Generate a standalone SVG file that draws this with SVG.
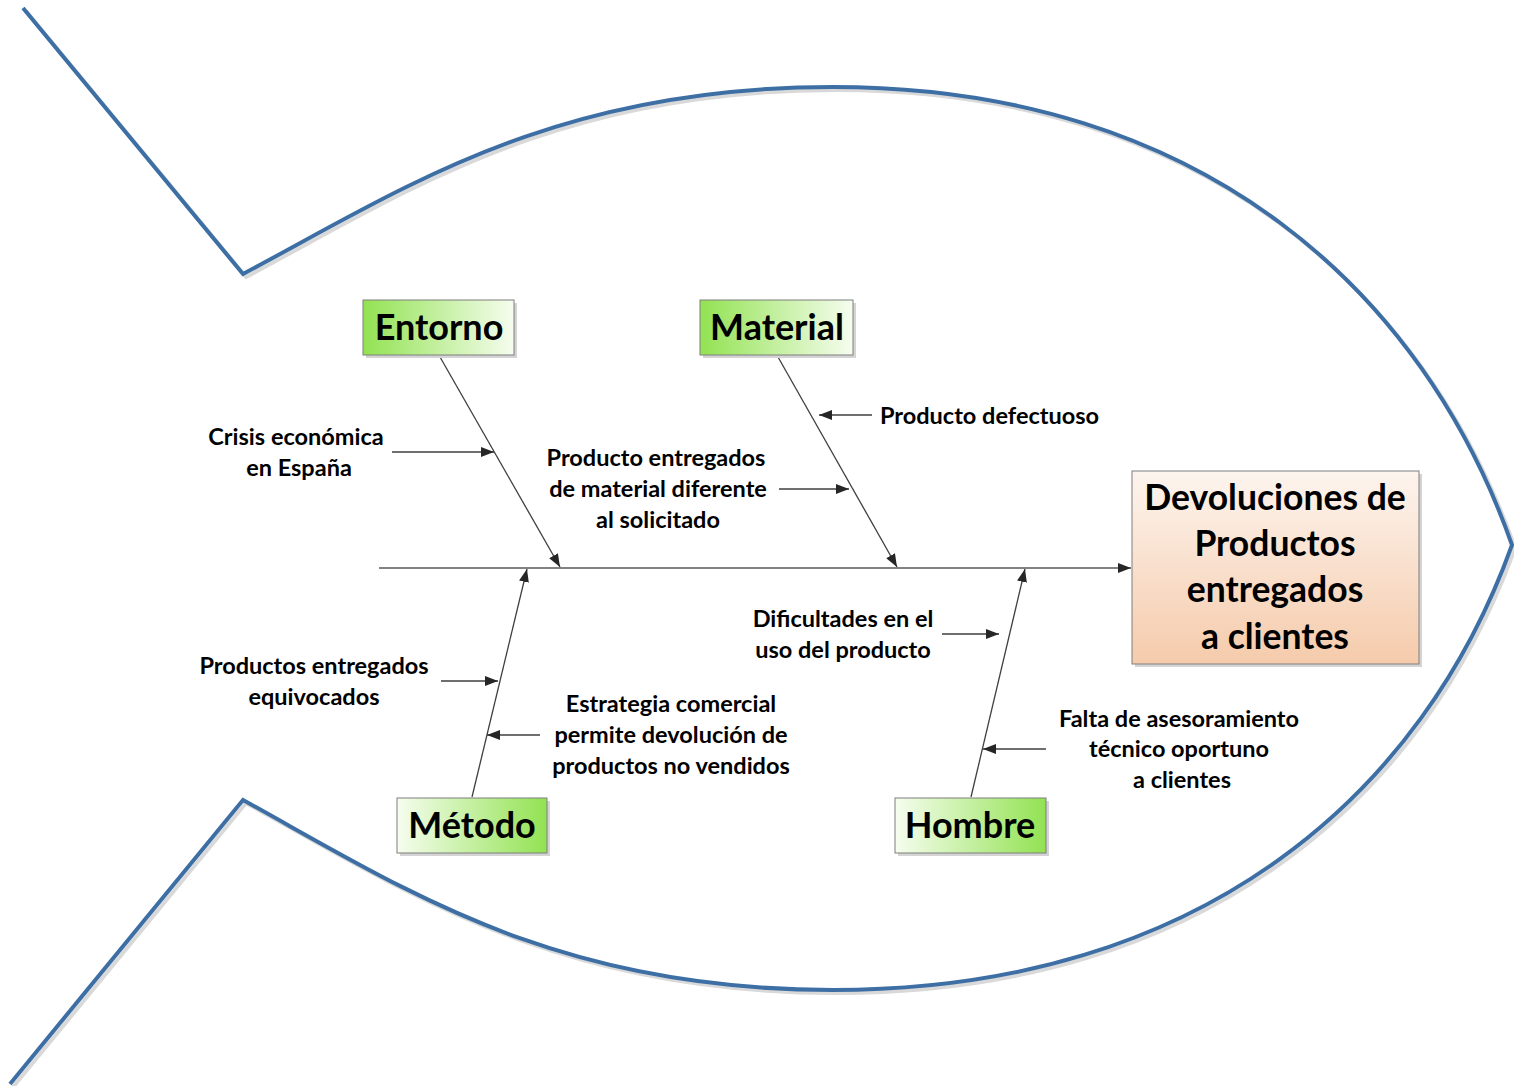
<svg xmlns="http://www.w3.org/2000/svg" width="1514" height="1086" viewBox="0 0 1514 1086">
  <style>
    .fish { fill: none; stroke: #3d6fa5; stroke-width: 4; stroke-linejoin: miter; }
    .fish-shadow { fill: none; stroke: #d9d9d9; stroke-width: 4; }
    .bone { stroke: #3f3f3f; stroke-width: 1.3; fill: none; marker-end: url(#arrow); }
    .spine { stroke: #595959; stroke-width: 1.6; fill: none; marker-end: url(#arrow); }
    .box { stroke: #7f7f7f; stroke-width: 1; }
    .shadow { fill: #d4d4d4; }
    .cat { font-family: Lato, "Open Sans", "Liberation Sans", sans-serif; font-weight: bold; font-size: 36px; fill: #000; text-anchor: middle; }
    .eff { font-family: Lato, "Open Sans", "Liberation Sans", sans-serif; font-weight: bold; font-size: 35.5px; fill: #000; text-anchor: middle; }
    .lbl { font-family: Lato, "Open Sans", "Liberation Sans", sans-serif; font-weight: bold; font-size: 23.5px; fill: #000; text-anchor: middle; }
    .start { text-anchor: start; }
  </style>
  <defs>
    <marker id="arrow" markerUnits="userSpaceOnUse" markerWidth="14" markerHeight="10" refX="13" refY="5" orient="auto">
      <path d="M0,0 L13,5 L0,10 z" fill="#262626"/>
    </marker>
    <linearGradient id="greenL" x1="0" y1="0" x2="1" y2="0">
      <stop offset="0" stop-color="#92e252"/>
      <stop offset="1" stop-color="#f6fdef"/>
    </linearGradient>
    <linearGradient id="greenR" x1="0" y1="0" x2="1" y2="0">
      <stop offset="0" stop-color="#f6fdef"/>
      <stop offset="1" stop-color="#92e252"/>
    </linearGradient>
    <linearGradient id="peach" x1="0" y1="0" x2="0" y2="1">
      <stop offset="0" stop-color="#fdf4ee"/>
      <stop offset="1" stop-color="#f5cbab"/>
    </linearGradient>
  </defs>

  <rect width="1514" height="1086" fill="#ffffff"/>

  <!-- fish outline -->
  <g id="fish">
    <path class="fish-shadow" transform="translate(3,3)" d="M23,8 L243,274 C403,189 553,87 833,87 C1206,87 1424,295 1512,545 C1424,790 1206,990 833,990 C553,990 403,888 243,800 L10,1084"/>
    <path class="fish" d="M23,8 L243,274 C403,189 553,87 833,87 C1206,87 1424,295 1512,545 C1424,790 1206,990 833,990 C553,990 403,888 243,800 L10,1084"/>
  </g>

  <!-- connectors -->
  <g id="connectors">
    <line class="spine" x1="379" y1="568" x2="1131" y2="568"/>
    <line class="bone" x1="440" y1="357" x2="560" y2="567"/>
    <line class="bone" x1="778" y1="357" x2="897" y2="567"/>
    <line class="bone" x1="472" y1="797" x2="527" y2="569"/>
    <line class="bone" x1="971" y1="797" x2="1025" y2="569"/>
    <line class="bone" x1="392" y1="452" x2="494" y2="452"/>
    <line class="bone" x1="779" y1="489" x2="849" y2="489"/>
    <line class="bone" x1="872" y1="415" x2="819" y2="415"/>
    <line class="bone" x1="942" y1="634" x2="999" y2="634"/>
    <line class="bone" x1="441" y1="681" x2="498" y2="681"/>
    <line class="bone" x1="540" y1="735" x2="487" y2="735"/>
    <line class="bone" x1="1046" y1="749" x2="983" y2="749"/>
  </g>

  <!-- category nodes -->
  <g id="entorno">
    <rect class="shadow" x="366" y="303" width="151" height="55"/>
    <rect class="box" x="363" y="300" width="151" height="55" fill="url(#greenL)"/>
    <text class="cat" x="439" y="340">Entorno</text>
  </g>
  <g id="material">
    <rect class="shadow" x="703" y="303" width="153" height="55"/>
    <rect class="box" x="700" y="300" width="153" height="55" fill="url(#greenL)"/>
    <text class="cat" x="777" y="340">Material</text>
  </g>
  <g id="metodo">
    <rect class="shadow" x="400" y="801" width="150" height="55"/>
    <rect class="box" x="397" y="798" width="150" height="55" fill="url(#greenR)"/>
    <text class="cat" x="472" y="838">Método</text>
  </g>
  <g id="hombre">
    <rect class="shadow" x="898" y="801" width="151" height="55"/>
    <rect class="box" x="895" y="798" width="151" height="55" fill="url(#greenR)"/>
    <text class="cat" x="970" y="838">Hombre</text>
  </g>

  <!-- effect node -->
  <g id="efecto">
    <rect class="shadow" x="1135" y="474" width="287" height="193"/>
    <rect class="box" x="1132" y="471" width="287" height="193" fill="url(#peach)"/>
    <text class="eff" x="1275" y="510">Devoluciones de</text>
    <text class="eff" x="1275" y="556">Productos</text>
    <text class="eff" x="1275" y="602">entregados</text>
    <text class="eff" x="1275" y="649">a clientes</text>
  </g>

  <!-- cause labels -->
  <g id="causa-crisis">
    <text class="lbl" x="296" y="445">Crisis económica</text>
    <text class="lbl" x="299" y="476">en España</text>
  </g>
  <g id="causa-material-diferente">
    <text class="lbl" x="656" y="466">Producto entregados</text>
    <text class="lbl" x="658" y="497">de material diferente</text>
    <text class="lbl" x="658" y="528">al solicitado</text>
  </g>
  <g id="causa-defectuoso">
    <text class="lbl start" x="880" y="424">Producto defectuoso</text>
  </g>
  <g id="causa-dificultades">
    <text class="lbl" x="843" y="627">Dificultades en el</text>
    <text class="lbl" x="843" y="658">uso del producto</text>
  </g>
  <g id="causa-equivocados">
    <text class="lbl" x="314" y="674">Productos entregados</text>
    <text class="lbl" x="314" y="705">equivocados</text>
  </g>
  <g id="causa-estrategia">
    <text class="lbl" x="671" y="712">Estrategia comercial</text>
    <text class="lbl" x="671" y="743">permite devolución de</text>
    <text class="lbl" x="671" y="774">productos no vendidos</text>
  </g>
  <g id="causa-asesoramiento">
    <text class="lbl" x="1179" y="727">Falta de asesoramiento</text>
    <text class="lbl" x="1179" y="757">técnico oportuno</text>
    <text class="lbl" x="1182" y="788">a clientes</text>
  </g>
</svg>
